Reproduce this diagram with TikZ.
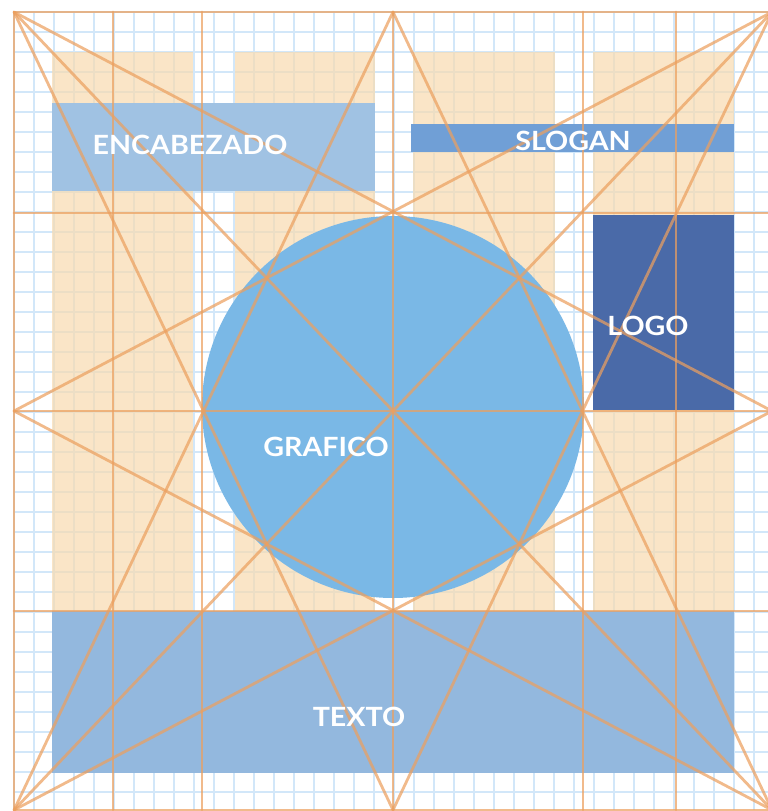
\documentclass[tikz,border=0pt]{standalone}
\usepackage{fontspec}
\setmainfont{Lato}
\definecolor{gridblue}{RGB}{210,231,249}
\definecolor{beige}{RGB}{248,219,176}
\definecolor{encblue}{RGB}{160,194,227}
\definecolor{sloganblue}{RGB}{112,159,214}
\definecolor{logoblue}{RGB}{74,106,168}
\definecolor{circblue}{RGB}{122,184,230}
\definecolor{textoblue}{RGB}{147,184,222}
\definecolor{lineorange}{RGB}{236,160,95}
\newcommand{\widetext}[1]{\scalebox{1.08}[1]{#1}}
\tikzset{
  gridline/.style={draw=gridblue, line width=2.2pt},
  beigecol/.style={fill=beige, opacity=0.7},
  guide/.style={draw=lineorange, line width=2.8pt, opacity=0.72, line cap=round},
  lbl/.style={text=white, inner sep=0pt, anchor=base, font=\fontsize{26.5}{30}\selectfont\bfseries}
}
\begin{document}
\begin{tikzpicture}[x=1pt,y=-1pt]
\useasboundingbox (0,0) rectangle (768,811);
\fill[white] (0,0) rectangle (768,811);
% named frame points
\coordinate (A) at (14,12);
\coordinate (B) at (772,12);
\coordinate (C) at (772,810);
\coordinate (D) at (14,810);
\coordinate (T) at (393,12);
\coordinate (Bm) at (393,810);
\coordinate (L) at (14,411);
\coordinate (R) at (772,411);
% light grid
\foreach \i in {0,...,37} \draw[gridline] ({14+20*\i},12) -- ({14+20*\i},810);
\foreach \j in {0,...,39} \draw[gridline] (14,{12+20*\j}) -- (772,{12+20*\j});
% beige columns
\fill[beigecol] (52,52) rectangle (193,611);
\fill[beigecol] (235,52) rectangle (375,611);
\fill[beigecol] (413,52) rectangle (555,611);
\fill[beigecol] (593,52) rectangle (734,611);
% blocks
\fill[encblue] (52,103) rectangle (375,191);
\fill[sloganblue] (411,124) rectangle (734,152);
\fill[logoblue] (593,215) rectangle (734,410);
\fill[circblue] (393,407) circle (191pt);
\fill[textoblue] (52,611) rectangle (734,773);
% guide lines
\draw[guide] (A) rectangle (C);
\foreach \x in {113,202,393,583,676} \draw[guide] (\x,12) -- (\x,810);
\foreach \y in {213,411,611} \draw[guide] (14,\y) -- (772,\y);
\draw[guide] (A) -- (C);
\draw[guide] (B) -- (D);
\draw[guide] (A) -- (Bm);
\draw[guide] (A) -- (R);
\draw[guide] (B) -- (Bm);
\draw[guide] (B) -- (L);
\draw[guide] (C) -- (T);
\draw[guide] (C) -- (L);
\draw[guide] (D) -- (T);
\draw[guide] (D) -- (R);
% labels
\node[lbl] (tenc) at (190,154) {\widetext{ENCABEZADO}};
\node[lbl] (tslogan) at (573,150) {\widetext{SLOGAN}};
\node[lbl] (tlogo) at (648,335) {\widetext{LOGO}};
\node[lbl] (tgraf) at (326,456) {\widetext{GRAFICO}};
\node[lbl] (ttexto) at (359,726) {\widetext{TEXTO}};
\end{tikzpicture}
\end{document}
